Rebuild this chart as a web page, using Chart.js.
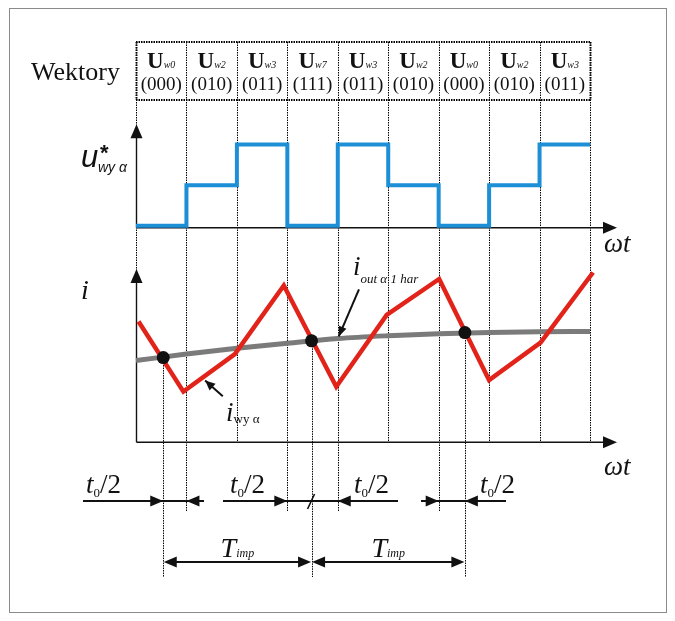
<!DOCTYPE html>
<html>
<head>
<meta charset="utf-8">
<script src="https://cdn.jsdelivr.net/npm/chart.js@4/dist/chart.umd.min.js"></script>
<style>
html,body{margin:0;padding:0;background:#fff;}
#wrap{width:675px;height:621px;position:relative;}
canvas{display:block;}
</style>
</head>
<body>
<div id="wrap"><canvas id="c" width="675" height="621"></canvas></div>
<script>
// ---- data ----
const vectorNames = ['w0','w2','w3','w7','w3','w2','w0','w2','w3'];
const vectorCodes = ['(000)','(010)','(011)','(111)','(011)','(010)','(000)','(010)','(011)'];
const stepTimes   = [0,1,2,3,4,5,6,7,8,9];
const uLevels     = [0,1,2,0,2,1,0,1,2,2];
const redTimes    = [0.05,0.94,1.96,2.93,3.97,4.97,6.01,7.0,8.02,9.06];
const redCurrent  = [6.85,2.87,5.0,8.89,3.15,7.22,9.26,3.52,5.65,9.63];
const grayTimes   = [0,1,2,3,4,5,6,7,8,9];
const grayCurrent = [4.63,5.0,5.33,5.61,5.88,6.04,6.15,6.22,6.26,6.28];
const dotTimes    = [0.54,3.48,6.52];
const dotCurrent  = [4.8,5.75,6.22];
const extendedLines = [1,3,4,6];   // column lines that reach the t0/2 row

// ---- layout (pixels) ----
const H = 621;
function rangeFor(v0,p0,v1,p1){
  const f0=(H-p0)/H, f1=(H-p1)/H, R=(v1-v0)/(f1-f0), min=v0-f0*R;
  return {min:min,max:min+R};
}
const uRange = rangeFor(0,224,2,141);
const iRange = rangeFor(0,445,10,265);
const L = {tableTop:42, tableRow:100, uBase:68, codeBase:90, extBottom:512,
  dotLineBottom:577, t0Y:501, timpY:562, axisTipX:617, uTip:2.5, iTip:9.83};

const SERIF = '"Liberation Serif","Times New Roman",serif';
const SANS = '"Liberation Sans",Arial,sans-serif';

function head(ctx,x,y,ang,len,hw){
  const c=Math.cos(ang), s=Math.sin(ang);
  const bx=x-len*c, by=y-len*s;
  ctx.beginPath();
  ctx.moveTo(x,y);
  ctx.lineTo(bx-hw*s, by+hw*c);
  ctx.lineTo(bx+hw*s, by-hw*c);
  ctx.closePath();
  ctx.fill();
}
function line(ctx,x1,y1,x2,y2){ctx.beginPath();ctx.moveTo(x1,y1);ctx.lineTo(x2,y2);ctx.stroke();}
function richText(ctx,parts,x,y,align){
  let w=0; parts.forEach(p=>{ctx.font=p[1]; p.w=ctx.measureText(p[0]).width; w+=p.w;});
  let cx = align==='center'? x-w/2 : x;
  ctx.textAlign='left'; ctx.textBaseline='alphabetic';
  parts.forEach(p=>{ctx.font=p[1]; ctx.fillText(p[0],cx,y+(p[2]||0)); cx+=p.w;});
}

const diagram = {
  id:'diagram',
  beforeDatasetsDraw(chart){
    const ctx=chart.ctx, sx=chart.scales.x, su=chart.scales.yU, si=chart.scales.yI;
    const X=t=>sx.getPixelForValue(t), YU=v=>su.getPixelForValue(v), YI=v=>si.getPixelForValue(v);
    ctx.save();
    // frame
    ctx.strokeStyle='#8a8a8a'; ctx.lineWidth=1; ctx.setLineDash([]);
    ctx.strokeRect(9.5,8.5,657,604);
    // dotted lines
    ctx.strokeStyle='#000'; ctx.lineWidth=1; ctx.setLineDash([1.5,1]);
    stepTimes.forEach(t=>{
      const bottom = extendedLines.includes(t)? L.extBottom : YI(0);
      line(ctx,Math.round(X(t))+0.5,L.tableTop,Math.round(X(t))+0.5,bottom);
    });
    dotTimes.forEach((t,k)=>{
      line(ctx,Math.round(X(t))+0.5,YI(dotCurrent[k]),Math.round(X(t))+0.5,L.dotLineBottom);
    });
    ctx.lineWidth=2;
    line(ctx,X(0),L.tableTop,X(9)+1,L.tableTop);
    line(ctx,X(0),L.tableRow,X(9)+1,L.tableRow);
    line(ctx,X(9)+0.5,L.tableTop,X(9)+0.5,L.tableRow);
    line(ctx,X(0)+0.5,L.tableTop,X(0)+0.5,L.tableRow);
    ctx.setLineDash([]);
    // axes
    ctx.strokeStyle='#111'; ctx.fillStyle='#111'; ctx.lineWidth=1.4;
    const ax0=Math.round(X(0))+0.5;
    const uy0=YU(0)+2;
    line(ctx,ax0,uy0,ax0,YU(L.uTip)+12);
    head(ctx,ax0,YU(L.uTip),-Math.PI/2,14,6);
    line(ctx,ax0,uy0,L.axisTipX-12,uy0);
    head(ctx,L.axisTipX,uy0,0,14,6);
    const iy0=YI(0);
    line(ctx,ax0,iy0,ax0,YI(L.iTip)+12);
    head(ctx,ax0,YI(L.iTip),-Math.PI/2,14,6);
    line(ctx,ax0,iy0,L.axisTipX-12,iy0);
    head(ctx,L.axisTipX,iy0,0,14,6);
    ctx.restore();
  },
  afterDatasetsDraw(chart){
    const ctx=chart.ctx, sx=chart.scales.x, si=chart.scales.yI;
    const X=t=>sx.getPixelForValue(t), YI=v=>si.getPixelForValue(v);
    ctx.save();
    ctx.fillStyle='#111'; ctx.strokeStyle='#111';
    // table text
    richText(ctx,[['Wektory','26px '+SERIF]],31,80);
    vectorNames.forEach((n,i)=>{
      const cx=X(i+0.5);
      richText(ctx,[['U','bold 23px '+SERIF,0],[n,'italic 10px '+SERIF,0]],cx,L.uBase,'center');
      richText(ctx,[[vectorCodes[i],'19px '+SERIF]],cx,L.codeBase,'center');
    });
    // upper axis label
    richText(ctx,[['u','italic 31px '+SANS]],81,167);
    richText(ctx,[['*','bold 22px '+SANS]],100,160);
    richText(ctx,[['wy α','italic 14px '+SANS]],98,172);
    // omega t labels
    richText(ctx,[['ωt','italic 27px '+SERIF]],604,252);
    richText(ctx,[['ωt','italic 27px '+SERIF]],604,475);
    // lower axis label
    richText(ctx,[['i','italic 28px '+SERIF]],81,299);
    // i_out label + pointer
    richText(ctx,[['i','italic 27px '+SERIF,0],['out α 1 har','italic 13px '+SERIF,8]],353,275);
    ctx.lineWidth=2;
    const ta={x:X(4.42),y:YI(8.67)}, tb={x:X(4.02),y:YI(6.0)};
    line(ctx,ta.x,ta.y,tb.x,tb.y);
    head(ctx,tb.x,tb.y,Math.atan2(tb.y-ta.y,tb.x-ta.x),10,4);
    // i_wy label + pointer
    richText(ctx,[['i','italic 27px '+SERIF,0],['wy α','13px '+SERIF,2]],226,421);
    const wa={x:X(1.72),y:YI(2.61)}, wb={x:X(1.37),y:YI(3.5)};
    line(ctx,wa.x,wa.y,wb.x,wb.y);
    head(ctx,wb.x,wb.y,Math.atan2(wb.y-wa.y,wb.x-wa.x),10,4.5);
    // t0/2 dimension arrows
    ctx.lineWidth=2;
    const y0=L.t0Y;
    line(ctx,83,y0,204,y0);
    head(ctx,X(dotTimes[0]),y0,0,13,5.5);
    head(ctx,X(1),y0,Math.PI,13,5.5);
    line(ctx,223,y0,398,y0);
    head(ctx,X(3),y0,0,13,5.5);
    head(ctx,X(4),y0,Math.PI,13,5.5);
    ctx.lineWidth=1.6;
    line(ctx,X(dotTimes[1])-4,y0+8,X(dotTimes[1])+3,y0-7);
    ctx.lineWidth=2;
    line(ctx,421,y0,506,y0);
    head(ctx,X(6),y0,0,13,5.5);
    head(ctx,X(dotTimes[2]),y0,Math.PI,13,5.5);
    const t0parts=()=>[['t','italic 27px '+SERIF,0],['0','13px '+SERIF,4],['/2','27px '+SERIF,0]];
    [86,230,354,480].forEach(x=>richText(ctx,t0parts(),x,493));
    // T_imp arrows
    const yT=L.timpY;
    for(let k=0;k<2;k++){
      const xa=X(dotTimes[k])+0.5, xb=X(dotTimes[k+1])-0.5;
      line(ctx,xa+8,yT,xb-8,yT);
      head(ctx,xa,yT,Math.PI,13,5.5);
      head(ctx,xb,yT,0,13,5.5);
      richText(ctx,[['T','italic 28px '+SERIF,0],['imp','italic 12px '+SERIF,0]],(xa+xb)/2,557,'center');
    }
    ctx.restore();
  }
};

const toXY=(xs,ys)=>xs.map((x,i)=>({x:x,y:ys[i]}));

new Chart(document.getElementById('c'),{
  type:'line',
  data:{datasets:[
    {label:'dots',data:toXY(dotTimes,dotCurrent),yAxisID:'yI',showLine:false,
      pointRadius:6.5,pointBackgroundColor:'#111',pointBorderWidth:0,order:0,clip:false},
    {label:'i_wy',data:toXY(redTimes,redCurrent),yAxisID:'yI',borderColor:'#e2231a',
      borderWidth:4.5,pointRadius:0,borderJoinStyle:'miter',tension:0,order:1,clip:false},
    {label:'i_out',data:toXY(grayTimes,grayCurrent),yAxisID:'yI',borderColor:'#7b7b7b',
      borderWidth:5,pointRadius:0,cubicInterpolationMode:'monotone',order:2,clip:false},
    {label:'u',data:toXY(stepTimes,uLevels),yAxisID:'yU',borderColor:'#1d8fd6',
      borderWidth:4,pointRadius:0,stepped:true,borderJoinStyle:'miter',order:3,clip:false}
  ]},
  options:{
    responsive:false,animation:false,devicePixelRatio:1,
    layout:{padding:{left:136,right:85,top:0,bottom:0}},
    plugins:{legend:{display:false},tooltip:{enabled:false},title:{display:false}},
    scales:{
      x:{type:'linear',min:0,max:9,display:false},
      yU:{type:'linear',min:uRange.min,max:uRange.max,display:false},
      yI:{type:'linear',min:iRange.min,max:iRange.max,display:false}
    }
  },
  plugins:[diagram]
});
</script>
</body>
</html>
